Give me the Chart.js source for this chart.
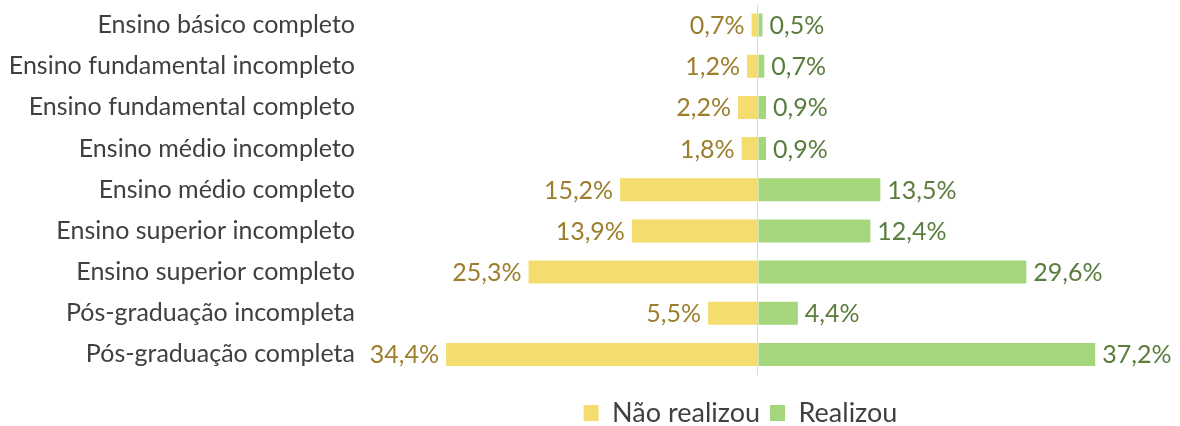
<!DOCTYPE html>
<html>
<head>
<meta charset="utf-8">
<script src="https://cdn.jsdelivr.net/npm/chart.js@4/dist/chart.umd.min.js"></script>
<style>
  html, body { margin: 0; padding: 0; background: #fff; }
  #wrap { width: 1180px; height: 426px; position: relative; }
</style>
</head>
<body>
<div id="wrap"><canvas id="chart"></canvas></div>
<script>
// Escolaridade x realização
const categories = [
  'Ensino básico completo',
  'Ensino fundamental incompleto',
  'Ensino fundamental completo',
  'Ensino médio incompleto',
  'Ensino médio completo',
  'Ensino superior incompleto',
  'Ensino superior completo',
  'Pós-graduação incompleta',
  'Pós-graduação completa'
];
const naoRealizou = [0.7, 1.2, 2.2, 1.8, 15.2, 13.9, 25.3, 5.5, 34.4];
const realizou = [0.5, 0.7, 0.9, 0.9, 13.5, 12.4, 29.6, 4.4, 37.2];
const seriesNames = ['Não realizou', 'Realizou'];

const FONT = 'Lato, "Open Sans", sans-serif';
const TEXT = '#404040';

const fmt = v => Math.abs(v).toFixed(1).replace('.', ',') + '%';

// value labels at the end of each bar
const endLabels = {
  id: 'endLabels',
  afterDatasetsDraw(chart) {
    const ctx = chart.ctx;
    ctx.save();
    ctx.font = '25px ' + FONT;
    ctx.textBaseline = 'middle';
    chart.data.datasets.forEach((ds, i) => {
      const meta = chart.getDatasetMeta(i);
      meta.data.forEach((bar, j) => {
        const v = ds.data[j];
        ctx.fillStyle = ds.labelColor;
        if (v < 0) {
          ctx.textAlign = 'right';
          ctx.fillText(fmt(v), bar.x - 7, bar.y + 1);
        } else {
          ctx.textAlign = 'left';
          ctx.fillText(fmt(v), bar.x + 7, bar.y + 1);
        }
      });
    });
    ctx.restore();
  }
};

// legend sits under the bars, not under the whole canvas
const shiftLegend = {
  id: 'shiftLegend',
  afterLayout(chart) {
    if (!chart.legend) return;
    chart.legend.left = 300;
    chart.legend.right = 1181;
  }
};

new Chart(document.getElementById('chart'), {
  type: 'bar',
  data: {
    labels: categories,
    datasets: [
      { label: seriesNames[0], data: naoRealizou.map(v => -v), backgroundColor: '#F4DC6E', labelColor: '#9C7E2D' },
      { label: seriesNames[1], data: realizou, backgroundColor: '#A4D77B', labelColor: '#5A7D3E' }
    ]
  },
  options: {
    indexAxis: 'y',
    responsive: true, maintainAspectRatio: false,
    animation: false,
    datasets: { bar: { categoryPercentage: 1, barPercentage: 0.56 } },
    layout: { padding: { top: 4.5, right: 5, left: 0, bottom: -10.5 } },
    scales: {
      x: {
        stacked: true, min: -44, max: 46,
        afterBuildTicks: s => { s.ticks = [{ value: 0 }]; },
        afterFit: s => { s.height = 14.5; s.paddingLeft = 0; s.paddingRight = 0; },
        ticks: { display: false },
        grid: { color: '#D9D9D9', lineWidth: 1, drawTicks: false },
        border: { display: false }
      },
      y: {
        stacked: true,
        afterFit: s => { s.width = 359; s.paddingTop = 0; s.paddingBottom = 0; },
        grid: { display: false, drawTicks: false },
        border: { display: false },
        ticks: { color: TEXT, font: { family: FONT, size: 25 }, padding: 4 }
      }
    },
    plugins: {
      tooltip: { enabled: false },
      legend: {
        position: 'bottom',
        labels: { color: TEXT, font: { family: FONT, size: 27 }, boxWidth: 15, boxHeight: 16, padding: 10 }
      }
    }
  },
  plugins: [endLabels, shiftLegend]
});
</script>
</body>
</html>
